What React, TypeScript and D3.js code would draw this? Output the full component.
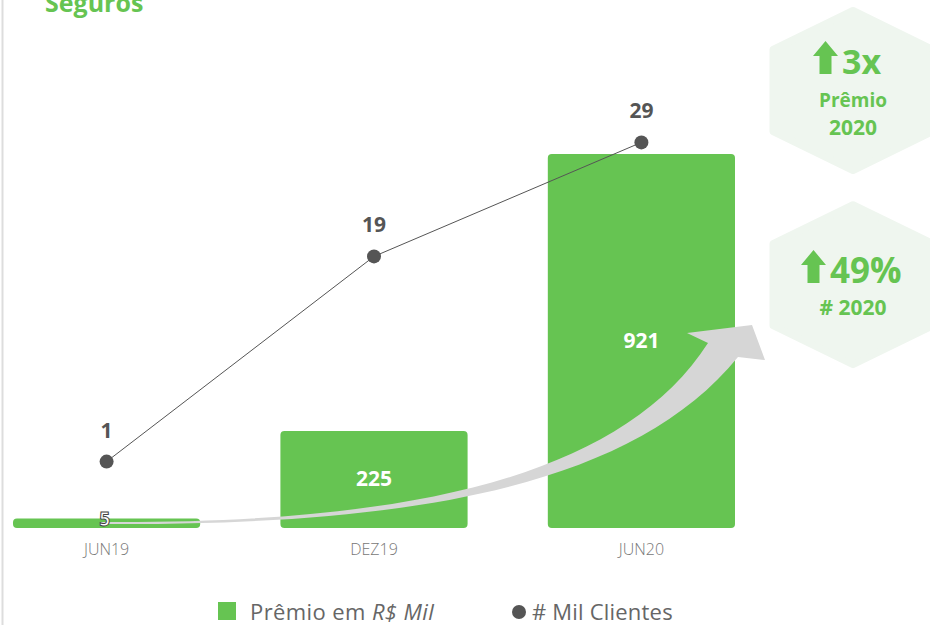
import React from "react";
import * as d3 from "d3";

const categories = ["JUN19", "DEZ19", "JUN20"];
const premio = [5, 225, 921];
const clientes = [1, 19, 29];
const legendLabels = ["Prêmio em ", "R$ Mil", "# Mil Clientes"];
const badges = [
  { big: "3x", lines: ["Prêmio", "2020"] },
  { big: "49%", lines: ["# 2020"] },
];

const GREEN = "#66c452";
const DARK = "#555555";
const FONT = "'Open Sans', sans-serif";

function hexPath(cx: number, cy: number, R: number, w: number, h: number) {
  return `M${cx},${cy - R} L${cx + w},${cy - h} L${cx + w},${cy + h} L${cx},${cy + R} L${cx - w},${cy + h} L${cx - w},${cy - h} Z`;
}

function upArrow(x: number, y: number) {
  return `M${x + 12.5},${y} L${x + 25},${y + 15} L${x + 18.5},${y + 15} L${x + 18.5},${y + 33} L${x + 6.5},${y + 33} L${x + 6.5},${y + 15} L${x},${y + 15} Z`;
}

export default function App() {
  const W = 930;
  const H = 625;
  const baseline = 528;

  const x = d3.scaleBand<string>().domain(categories).range([13, 735]).paddingInner(0.3).paddingOuter(0);
  const bw = x.bandwidth();
  const yBar = d3.scaleLinear().domain([-19, 921]).range([baseline, 154]);
  const yLine = d3.scaleLinear().domain([0, 30]).range([473, 131]);

  const cx = (c: string) => (x(c) as number) + bw / 2;

  const line = d3
    .line<number>()
    .x((_, i) => cx(categories[i]))
    .y((d) => yLine(d));

  const sx = cx(categories[0]) - 6;
  const ex = (x(categories[2]) as number) + bw;
  const arrowPath = `M${sx},${baseline - 6}
    C${sx + 300},${baseline - 4} ${ex - 115},${baseline - 48} ${ex - 27},${baseline - 185}
    L${ex - 48},${baseline - 195}
    L${ex + 17},${baseline - 203}
    L${ex + 30},${baseline - 168}
    L${ex + 3},${baseline - 171}
    C${ex - 105},${baseline - 38} ${ex - 335},${baseline - 2} ${sx},${baseline - 4} Z`;

  return (
    <svg width={W} height={H} style={{ position: "absolute", left: 0, top: 0, background: "#fff" }}>
      <line x1={2.5} x2={2.5} y1={0} y2={H} stroke="#dddddd" strokeWidth={2} />
      <text x={45} y={12} fill={GREEN} fontFamily={FONT} fontWeight={700} fontSize={25}>
        Seguros
      </text>

      {premio.map((v, i) => (
        <rect
          key={categories[i]}
          x={x(categories[i])}
          y={yBar(v)}
          width={bw}
          height={baseline - yBar(v)}
          rx={4}
          fill={GREEN}
        />
      ))}

      <path d={arrowPath} fill="#d6d6d6" />

      {premio.map((v, i) => {
        const top = yBar(v);
        const mid = (top + baseline) / 2;
        const small = baseline - top < 30;
        return small ? (
          <text
            key={"bl" + i}
            x={cx(categories[i]) - 2}
            y={baseline - 2}
            textAnchor="middle"
            fontFamily={FONT}
            fontWeight={700}
            fontSize={19}
            fill="#ffffff"
            stroke="#444"
            strokeWidth={1}
          >
            {v}
          </text>
        ) : (
          <text
            key={"bl" + i}
            x={cx(categories[i])}
            y={mid + 7}
            textAnchor="middle"
            fontFamily={FONT}
            fontWeight={700}
            fontSize={21}
            fill="#ffffff"
          >
            {v}
          </text>
        );
      })}

      <path d={line(clientes) || ""} fill="none" stroke={DARK} strokeWidth={1} />
      {clientes.map((v, i) => (
        <g key={"pt" + i}>
          <circle cx={cx(categories[i])} cy={yLine(v)} r={7} fill={DARK} />
          <text
            x={cx(categories[i])}
            y={yLine(v) - 24}
            textAnchor="middle"
            fontFamily={FONT}
            fontWeight={700}
            fontSize={21}
            fill={DARK}
          >
            {v}
          </text>
        </g>
      ))}

      {categories.map((c) => (
        <text key={c} x={cx(c)} y={555} textAnchor="middle" fontFamily={FONT} fontWeight={300} fontSize={16} fill="#777">
          {c}
        </text>
      ))}

      <g>
        <path d={hexPath(853, 90.5, 80, 80, 41)} fill="#eff6ef" stroke="#eff6ef" strokeWidth={7} strokeLinejoin="round" />
        <path d={upArrow(813, 41)} fill={GREEN} />
        <text x={842} y={74} fontFamily={FONT} fontWeight={700} fontSize={34} fill={GREEN}>
          {badges[0].big}
        </text>
        <text x={853} y={107} textAnchor="middle" fontFamily={FONT} fontWeight={700} fontSize={19} fill={GREEN}>
          {badges[0].lines[0]}
        </text>
        <text x={853} y={135} textAnchor="middle" fontFamily={FONT} fontWeight={700} fontSize={21} fill={GREEN}>
          {badges[0].lines[1]}
        </text>

        <path d={hexPath(853, 284.7, 80, 80, 41)} fill="#eff6ef" stroke="#eff6ef" strokeWidth={7} strokeLinejoin="round" />
        <path d={upArrow(801, 250)} fill={GREEN} />
        <text x={830} y={283} fontFamily={FONT} fontWeight={700} fontSize={35} fill={GREEN}>
          {badges[1].big}
        </text>
        <text x={853} y={315} textAnchor="middle" fontFamily={FONT} fontWeight={700} fontSize={21} fill={GREEN}>
          {badges[1].lines[0]}
        </text>
      </g>

      <rect x={218} y={602} width={18} height={18} fill={GREEN} />
      <text x={250} y={620} fontFamily={FONT} fontSize={22} letterSpacing={0.4} fill="#666">
        {legendLabels[0]}
        <tspan fontStyle="italic">{legendLabels[1]}</tspan>
      </text>
      <circle cx={519} cy={612} r={7} fill={DARK} />
      <text x={532} y={620} fontFamily={FONT} fontSize={22} letterSpacing={0.2} fill="#666">
        {legendLabels[2]}
      </text>
    </svg>
  );
}
